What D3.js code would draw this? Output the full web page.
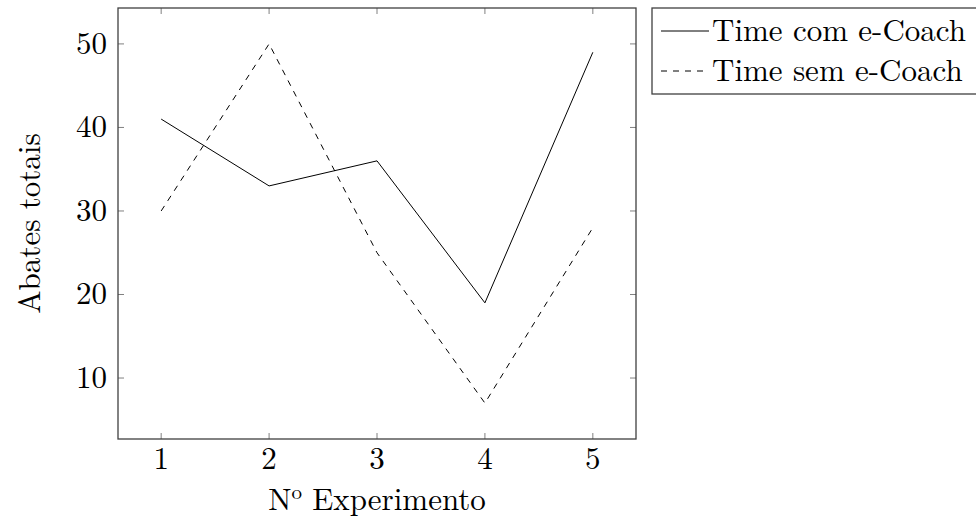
<!DOCTYPE html>
<html>
<head>
<meta charset="utf-8">
<script src="https://cdn.jsdelivr.net/npm/d3@7"></script>
<style>
  body { margin: 0; background: #fff; }
</style>
</head>
<body>
<div id="viz"></div>
<script>
const width = 976;
const height = 518;
const margin = {top: 8, right: 340, bottom: 79, left: 118};
const font = '"Latin Modern Roman", "CMU Serif", "Liberation Serif", serif';
const fontSize = 31;

const experiments = [1, 2, 3, 4, 5];
const comCoach = [41, 33, 36, 19, 49];
const semCoach = [30, 50, 25, 7, 28];
const yTicks = [10, 20, 30, 40, 50];
const series = [
  { label: 'Time com e-Coach', values: comCoach, dash: null },
  { label: 'Time sem e-Coach', values: semCoach, dash: '6 6' }
];

const svg = d3.select('#viz')
  .append('svg')
    .attr('width', width)
    .attr('height', height)
    .style('font-family', font);

const scaleX = d3.scaleLinear()
  .domain([0.6, 5.4])
  .range([margin.left, width - margin.right]);

const scaleY = d3.scaleLinear()
  .domain([2.7, 54.3])
  .range([height - margin.bottom, margin.top]);

const x0 = scaleX.range()[0], x1 = scaleX.range()[1];
const y0 = scaleY.range()[0], y1 = scaleY.range()[1];

// ticks (inside, mirrored on all sides)
const tickColor = '#808080';
const tickLen = 6;
const ticks = svg.append('g');
experiments.forEach(v => {
  ticks.append('line').attr('x1', scaleX(v)).attr('x2', scaleX(v))
    .attr('y1', y0).attr('y2', y0 - tickLen).attr('stroke', tickColor);
  ticks.append('line').attr('x1', scaleX(v)).attr('x2', scaleX(v))
    .attr('y1', y1).attr('y2', y1 + tickLen).attr('stroke', tickColor);
});
yTicks.forEach(v => {
  ticks.append('line').attr('x1', x0).attr('x2', x0 + tickLen)
    .attr('y1', scaleY(v)).attr('y2', scaleY(v)).attr('stroke', tickColor);
  ticks.append('line').attr('x1', x1).attr('x2', x1 - tickLen)
    .attr('y1', scaleY(v)).attr('y2', scaleY(v)).attr('stroke', tickColor);
});

// tick labels
svg.append('g').selectAll('text')
  .data(experiments)
  .join('text')
    .attr('x', d => scaleX(d))
    .attr('y', y0 + 30)
    .attr('text-anchor', 'middle')
    .style('font-size', fontSize + 'px')
    .text(d => d);

svg.append('g').selectAll('text')
  .data(yTicks)
  .join('text')
    .attr('x', x0 - 11)
    .attr('y', d => scaleY(d) + 10)
    .attr('text-anchor', 'end')
    .style('font-size', fontSize + 'px')
    .text(d => d);

// lines
const line = d3.line()
  .x((d, i) => scaleX(experiments[i]))
  .y(d => scaleY(d));

svg.append('g').selectAll('path')
  .data(series)
  .join('path')
    .attr('d', d => line(d.values))
    .attr('fill', 'none')
    .attr('stroke', '#000')
    .attr('stroke-width', 1)
    .attr('stroke-dasharray', d => d.dash);

// frame
svg.append('rect')
  .attr('x', x0).attr('y', y1)
  .attr('width', x1 - x0).attr('height', y0 - y1)
  .attr('fill', 'none')
  .attr('stroke', '#404040')
  .attr('stroke-width', 1.3);

// axis labels
const xLabel = svg.append('text')
  .attr('x', (x0 + x1) / 2)
  .attr('y', 510)
  .attr('text-anchor', 'middle')
  .style('font-size', fontSize + 'px');
xLabel.append('tspan').text('N');
xLabel.append('tspan').attr('dy', -11).style('font-size', '21px').text('o');
xLabel.append('tspan').attr('dy', 11).text(' Experimento');

svg.append('text')
  .attr('transform', `translate(40, ${(y0 + y1) / 2}) rotate(-90)`)
  .attr('text-anchor', 'middle')
  .style('font-size', fontSize + 'px')
  .text('Abates totais');

// legend
const legend = svg.append('g');
legend.append('rect')
  .attr('x', 652).attr('y', 8)
  .attr('width', 340).attr('height', 86)
  .attr('fill', '#fff')
  .attr('stroke', '#404040')
  .attr('stroke-width', 1.3);

const legendItems = legend.selectAll('g')
  .data(series)
  .join('g')
    .attr('transform', (d, i) => `translate(0, ${31 + i * 40})`);
legendItems.append('line')
  .attr('x1', 661).attr('x2', 709)
  .attr('y1', 0).attr('y2', 0)
  .attr('stroke', '#000')
  .attr('stroke-dasharray', d => d.dash);
legendItems.append('text')
  .attr('x', 712)
  .attr('y', 10)
  .style('font-size', fontSize + 'px')
  .text(d => d.label);
</script>
</body>
</html>
